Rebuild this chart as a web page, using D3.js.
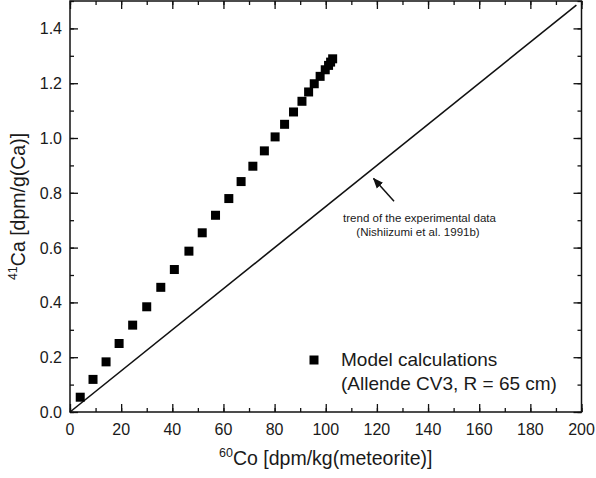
<!DOCTYPE html>
<html lang="en">

<head>
    <meta charset="UTF-8">
    <title>41Ca vs 60Co</title>
    <style>
        body {
            margin: 0;
            overflow: hidden;
            background: #fff;
        }

        text {
            font-family: "Liberation Sans", Arial, sans-serif;
            fill: #1a1a1a;
        }
    </style>
</head>

<body>
    <div id="container"></div>

    <script type="text/javascript" src="https://cdn.jsdelivr.net/npm/d3@7"></script>
    <script type="text/javascript">
        // Model calculations (Allende CV3, R = 65 cm)
        var co60 = [4.0, 9.0, 14.1, 19.2, 24.5, 30.0, 35.5, 40.8, 46.5, 51.7, 56.9, 62.1, 66.9,
            71.5, 76.0, 80.2, 83.9, 87.4, 90.7, 93.3, 95.5, 97.8, 99.8, 101.1, 101.9, 102.7];
        var ca41 = [0.054, 0.119, 0.183, 0.250, 0.317, 0.384, 0.455, 0.520, 0.587, 0.654, 0.718, 0.779, 0.841,
            0.897, 0.953, 1.004, 1.050, 1.095, 1.134, 1.168, 1.198, 1.225, 1.249, 1.265, 1.277, 1.289];

        // trend of the experimental data (straight line)
        var trendX = [0, 198];
        var trendY = [0, 1.485];

        var xTicks = [0, 20, 40, 60, 80, 100, 120, 140, 160, 180, 200];
        var yTicks = [0.0, 0.2, 0.4, 0.6, 0.8, 1.0, 1.2, 1.4];

        var width = 596, height = 478;
        // note: "top" is reserved on window, so use plot* names
        var plotL = 70, plotR = 581.5, plotT = 1, plotB = 412;

        var x = d3.scaleLinear().domain([0, 200]).range([plotL, plotR]);
        var y = d3.scaleLinear().domain([0, 1.5]).range([plotB, plotT]);

        var svg = d3.select("#container")
            .append("svg")
            .attr("width", width)
            .attr("height", height);

        var minorX = d3.range(0, 201, 10);
        var minorY = d3.range(0, 1.51, 0.1);

        // Inward ticks on all four sides, minor then major.
        var axes = svg.append("g").attr("class", "axes");
        var sides = [
            [d3.axisBottom, x, "translate(0," + plotB + ")", minorX, xTicks],
            [d3.axisTop, x, "translate(0," + plotT + ")", minorX, xTicks],
            [d3.axisLeft, y, "translate(" + plotL + ",0)", minorY, yTicks],
            [d3.axisRight, y, "translate(" + plotR + ",0)", minorY, yTicks]
        ];
        sides.forEach(function (s) {
            axes.append("g").attr("transform", s[2])
                .call(s[0](s[1]).tickValues(s[3]).tickSize(-4).tickFormat(""));
            axes.append("g").attr("transform", s[2])
                .call(s[0](s[1]).tickValues(s[4]).tickSize(-8).tickFormat(""));
        });

        axes.selectAll("path.domain").remove();
        axes.selectAll("line").attr("stroke", "#111").attr("stroke-width", 1.3);

        // Frame
        svg.append("rect")
            .attr("x", plotL)
            .attr("y", plotT)
            .attr("width", plotR - plotL)
            .attr("height", plotB - plotT)
            .attr("fill", "none")
            .attr("stroke", "#111")
            .attr("stroke-width", 1.5);

        // Tick labels
        svg.append("g").selectAll("text")
            .data(xTicks)
            .enter()
            .append("text")
            .attr("x", function (d) { return x(d); })
            .attr("y", plotB + 23)
            .attr("text-anchor", "middle")
            .style("font-size", "16px")
            .text(function (d) { return d; });

        svg.append("g").selectAll("text")
            .data(yTicks)
            .enter()
            .append("text")
            .attr("x", plotL - 8)
            .attr("y", function (d) { return y(d) + 6; })
            .attr("text-anchor", "end")
            .style("font-size", "16px")
            .text(function (d) { return d.toFixed(1); });

        // Axis titles
        var xt = svg.append("text")
            .attr("x", (plotL + plotR) / 2)
            .attr("y", 465)
            .attr("text-anchor", "middle")
            .style("font-size", "19.5px");
        xt.append("tspan").attr("dy", -8).style("font-size", "12.5px").text("60");
        xt.append("tspan").attr("dy", 8).text("Co [dpm/kg(meteorite)]");

        var yt = svg.append("text")
            .attr("transform", "translate(25," + (plotT + plotB) / 2 + ") rotate(-90)")
            .attr("text-anchor", "middle")
            .style("font-size", "19.5px");
        yt.append("tspan").attr("dy", -8).style("font-size", "12.5px").text("41");
        yt.append("tspan").attr("dy", 8).text("Ca [dpm/g(Ca)]");

        // Trend line
        svg.append("line")
            .attr("x1", x(trendX[0]))
            .attr("y1", y(trendY[0]))
            .attr("x2", x(trendX[1]))
            .attr("y2", y(trendY[1]))
            .attr("stroke", "#111")
            .attr("stroke-width", 1.6);

        // Model points
        var sq = 9;
        svg.append("g").selectAll("rect")
            .data(co60)
            .enter()
            .append("rect")
            .attr("x", function (d) { return x(d) - sq / 2; })
            .attr("y", function (d, i) { return y(ca41[i]) - sq / 2; })
            .attr("width", sq)
            .attr("height", sq)
            .attr("fill", "#000");

        // Annotation arrow
        svg.append("defs").append("marker")
            .attr("id", "head")
            .attr("viewBox", "0 0 10 10")
            .attr("refX", 9)
            .attr("refY", 5)
            .attr("markerWidth", 7)
            .attr("markerHeight", 7)
            .attr("orient", "auto")
            .append("path")
            .attr("d", "M0,1 L10,5 L0,9 Z")
            .attr("fill", "#111");

        svg.append("line")
            .attr("x1", x(126.7))
            .attr("y1", y(0.769))
            .attr("x2", x(118.7))
            .attr("y2", y(0.852))
            .attr("stroke", "#111")
            .attr("stroke-width", 1.5)
            .attr("marker-end", "url(#head)");

        svg.append("text")
            .attr("x", 419.5)
            .attr("y", 222)
            .attr("text-anchor", "middle")
            .style("font-size", "11.5px")
            .text("trend of the experimental data");
        svg.append("text")
            .attr("x", 418)
            .attr("y", 236)
            .attr("text-anchor", "middle")
            .style("font-size", "11.5px")
            .text("(Nishiizumi et al. 1991b)");

        // Legend
        svg.append("rect")
            .attr("x", 314 - sq / 2)
            .attr("y", 360 - sq / 2)
            .attr("width", sq)
            .attr("height", sq)
            .attr("fill", "#000");
        svg.append("text")
            .attr("x", 341)
            .attr("y", 366)
            .style("font-size", "19px")
            .text("Model calculations");
        svg.append("text")
            .attr("x", 341)
            .attr("y", 390)
            .style("font-size", "19px")
            .text("(Allende CV3, R = 65 cm)");
    </script>
</body>

</html>
